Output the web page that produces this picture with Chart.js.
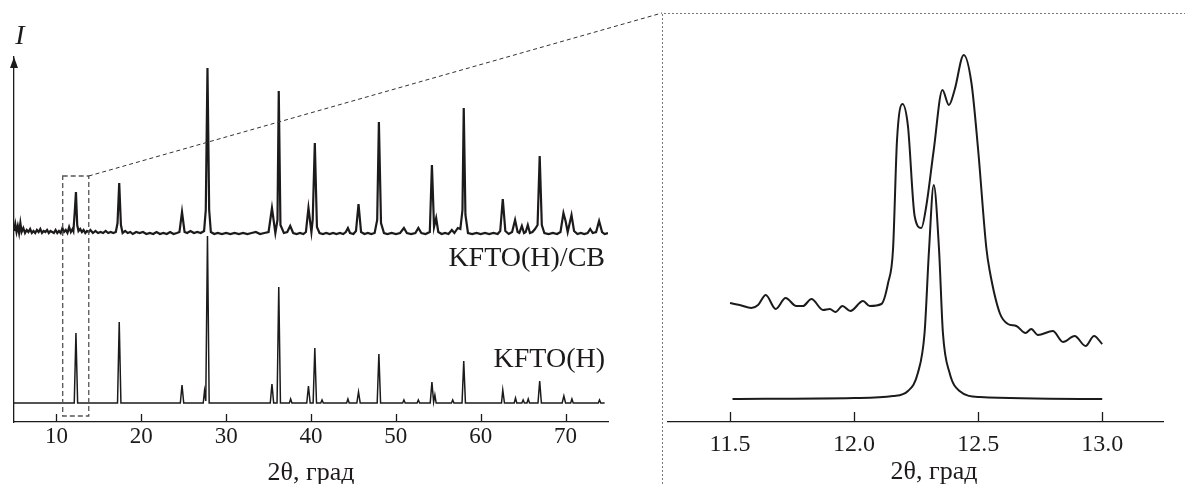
<!DOCTYPE html>
<html>
<head>
<meta charset="utf-8">
<script src="https://cdn.jsdelivr.net/npm/chart.js@4.4.1/dist/chart.umd.min.js"></script>
<style>
body { margin: 0; background: #fff; }
#wrap { position: relative; width: 1185px; height: 484px; }
canvas { position: absolute; left: 0; top: 0; }
</style>
</head>
<body>
<div id="wrap">
<canvas id="wide" width="1185" height="484"></canvas>
<canvas id="zoom" width="1185" height="484"></canvas>
</div>
<script>
// KFTO(H) pattern, intensity above its own baseline
var khTheta = [5, 12.1, 12.3, 12.5, 17.2, 17.4, 17.6, 24.6, 24.8, 25.0, 27.3, 27.45, 27.6, 27.8, 28.0,
    35.2, 35.4, 35.6, 36.0, 36.2, 36.4, 37.45, 37.6, 37.75, 39.5, 39.7, 39.9, 40.25, 40.45, 40.65,
    41.15, 41.3, 41.45, 44.2, 44.35, 44.5, 45.4, 45.6, 45.8, 47.8, 48.0, 48.2, 50.8, 50.95, 51.1,
    52.5, 52.65, 52.8, 54.05, 54.25, 54.45, 54.6, 54.75, 56.55, 56.7, 56.85, 57.8, 58.0, 58.2,
    62.45, 62.6, 62.8, 63.95, 64.1, 64.25, 64.85, 65.0, 65.15, 65.45, 65.6, 65.75, 66.75, 66.95, 67.15,
    69.6, 69.8, 70.0, 70.6, 70.75, 70.9, 73.85, 74.0, 74.15, 74.6];
var khI = [0, 0, 70, 0, 0, 81, 0, 0, 18, 0, 0, 12, 2, 167, 0,
    0, 19, 0, 0, 116, 0, 0, 4, 0, 0, 17, 0, 0, 55, 0,
    0, 3, 0, 0, 4, 0, 0, 11, 0, 0, 49, 0, 0, 3, 0,
    0, 3, 0, 0, 21, 1, 8, 0, 0, 3, 0, 0, 42, 0,
    0, 13, 0, 0, 5, 0, 0, 3, 0, 0, 4, 0, 0, 22, 0,
    0, 7, 0, 0, 4, 0, 0, 3, 0, 0];
var khOffset = 19;

// KFTO(H)/CB pattern
var cbTheta = [5.0, 5.15, 5.3, 5.45, 5.6, 5.75, 5.9, 6.1, 6.3, 6.5, 6.7, 6.9, 7.1, 7.3, 7.5, 7.7, 7.9, 8.1, 8.3, 8.5,
    8.7, 8.9, 9.1, 9.3, 9.5, 9.7, 9.9, 10.1, 10.3, 10.5, 10.7, 10.9, 11.1, 11.3, 11.5, 11.7, 11.9, 12.0, 12.15, 12.3,
    12.45, 12.6, 12.8, 13.0, 13.2, 13.4, 13.6, 13.8, 14.0, 14.3, 14.6, 14.9, 15.2, 15.5, 15.8, 16.1, 16.4, 16.7, 17.0, 17.2,
    17.4, 17.6, 17.8, 18.1, 18.4, 18.7, 19.0, 19.4, 19.8, 20.2, 20.6, 21.0, 21.4, 21.8, 22.2, 22.6, 23.0, 23.4, 23.8, 24.2,
    24.5, 24.8, 25.1, 25.4, 25.8, 26.2, 26.6, 27.0, 27.4, 27.6, 27.8, 28.0, 28.2, 28.6, 29.0, 29.5, 30.0, 30.5, 31.0, 31.5,
    32.0, 32.5, 33.0, 33.5, 34.0, 34.5, 35.0, 35.4, 35.8, 36.05, 36.2, 36.4, 36.8, 37.2, 37.55, 37.9, 38.3, 38.7, 39.1, 39.4,
    39.7, 40.05, 40.2, 40.45, 40.7, 41.0, 41.4, 41.8, 42.2, 42.6, 43.0, 43.4, 43.8, 44.1, 44.35, 44.6, 45.0, 45.3, 45.6, 45.9,
    46.3, 46.7, 47.1, 47.5, 47.8, 48.0, 48.25, 48.6, 49.0, 49.5, 50.0, 50.5, 50.95, 51.3, 51.8, 52.3, 52.65, 53.0, 53.5, 54.0,
    54.25, 54.5, 54.75, 55.0, 55.4, 55.8, 56.2, 56.6, 56.9, 57.3, 57.6, 57.85, 58.0, 58.2, 58.5, 59.0, 59.5, 60.0, 60.5, 61.0,
    61.5, 62.0, 62.3, 62.6, 62.9, 63.3, 63.7, 64.05, 64.35, 64.55, 64.85, 65.1, 65.3, 65.55, 65.8, 66.1, 66.4, 66.7, 66.95, 67.2,
    67.5, 68.0, 68.5, 69.0, 69.4, 69.75, 70.0, 70.25, 70.7, 71.0, 71.4, 71.8, 72.2, 72.6, 72.9, 73.2, 73.6, 73.95, 74.3, 74.6, 75.0];
var cbI = [4, 11, 3, 9, 2, 12, 3, 7, 2, 5, 3, 6, 2, 4, 2, 5, 3, 6, 2, 4,
    3, 5, 2, 4, 3, 2, 5, 2, 4, 2, 7, 3, 5, 2, 8, 3, 6, 4, 22, 43,
    10, 4, 6, 3, 5, 2, 4, 3, 5, 2, 4, 2, 3, 2, 4, 2, 3, 2, 3, 12,
    52, 10, 2, 4, 2, 3, 1, 3, 2, 3, 1, 2, 1, 3, 1, 2, 1, 3, 1, 2,
    3, 23, 3, 2, 4, 2, 3, 2, 4, 25, 167, 25, 3, 1, 2, 1, 2, 1, 2, 1,
    2, 1, 2, 3, 1, 2, 3, 27, 2, 15, 144, 10, 2, 3, 9, 2, 1, 2, 1, 3,
    27, 3, 15, 92, 8, 2, 1, 2, 1, 2, 1, 2, 1, 3, 7, 2, 1, 4, 31, 3,
    1, 2, 1, 2, 15, 113, 12, 2, 1, 2, 1, 2, 7, 2, 1, 2, 7, 2, 1, 3,
    70, 8, 17, 3, 1, 2, 1, 5, 2, 7, 6, 25, 127, 20, 2, 1, 2, 1, 2, 1,
    2, 1, 4, 36, 4, 1, 3, 15, 3, 2, 9, 2, 3, 10, 2, 3, 6, 10, 79, 10,
    2, 1, 2, 1, 3, 22, 14, 3, 20, 4, 1, 2, 1, 2, 6, 2, 3, 14, 3, 1, 2];
var cbOffset = 187;

var wideTicks = [10, 20, 30, 40, 50, 60, 70];

// zoomed region around 12.3 deg
var zoomCbTheta = [11.5, 11.539, 11.586, 11.613, 11.644, 11.684, 11.724, 11.767, 11.794, 11.828, 11.875, 11.902,
    11.925, 11.953, 11.985, 12.036, 12.063, 12.11, 12.137, 12.157, 12.173, 12.195, 12.217, 12.244, 12.271, 12.291,
    12.321, 12.356, 12.382, 12.405, 12.442, 12.473, 12.5, 12.533, 12.546, 12.587, 12.62, 12.654, 12.691, 12.714,
    12.741, 12.801, 12.842, 12.889, 12.933, 12.967, 13.0];
var zoomCbI = [119, 117, 114, 117, 127, 113, 124, 116, 116, 123, 112, 113,
    110, 116, 111, 121, 116, 118, 139, 173, 282, 318, 296, 206, 194, 216,
    272, 332, 317, 332, 367, 339, 272, 174, 152, 109, 98, 96, 89, 93,
    87, 91, 80, 86, 76, 86, 78];
var zoomKhTheta = [11.51, 12.0, 12.157, 12.217, 12.257, 12.284, 12.302, 12.321, 12.342, 12.358, 12.385, 12.425, 12.506, 13.0];
var zoomKhI = [23, 24, 26, 31, 49, 89, 172, 237, 174, 89, 49, 31, 25, 23];
var zoomTicks = [11.5, 12.0, 12.5, 13.0];

var ink = '#1d1a1b';
var serif = 'Liberation Serif';

var toPoints = function(xs, ys, offset){
    var pts = [];
    for (var i = 0; i < xs.length; i++) {
        pts.push({x: xs[i], y: ys[i] + offset});
    }
    return pts;
};

var fixHeight = function(h){
    return function(scale){ scale.height = h; };
};

var innerTicks = function(chart, len){
    var ctx = chart.ctx;
    var xs = chart.scales.x;
    ctx.save();
    ctx.strokeStyle = ink;
    ctx.lineWidth = 1.3;
    xs.ticks.forEach(function(t){
        var px = Math.round(xs.getPixelForValue(t.value)) + 0.5;
        ctx.beginPath();
        ctx.moveTo(px, xs.top);
        ctx.lineTo(px, xs.top - len);
        ctx.stroke();
    });
    ctx.restore();
};

var widePlugin = {
    id: 'wideDecor',
    afterDraw: function(chart){
        var ctx = chart.ctx;
        var xs = chart.scales.x, ys = chart.scales.y;
        var area = chart.chartArea;
        innerTicks(chart, 8);

        // arrow on the intensity axis
        ctx.save();
        ctx.fillStyle = ink;
        ctx.beginPath();
        ctx.moveTo(area.left, area.top);
        ctx.lineTo(area.left - 4, area.top + 11);
        ctx.lineTo(area.left + 4, area.top + 11);
        ctx.closePath();
        ctx.fill();

        ctx.font = 'italic 28px "' + serif + '"';
        ctx.textAlign = 'center';
        ctx.textBaseline = 'middle';
        ctx.fillText('I', 20, 37);

        ctx.font = '28px "' + serif + '"';
        ctx.textAlign = 'right';
        ctx.fillText('KFTO(H)/CB', 605, 259);
        ctx.fillText('KFTO(H)', 605, 360);

        // dashed box around the 12 deg peak
        var bx0 = xs.getPixelForValue(10.74), bx1 = xs.getPixelForValue(13.81);
        var by0 = ys.getPixelForValue(246), by1 = ys.getPixelForValue(6);
        ctx.strokeStyle = '#555';
        ctx.lineWidth = 1.3;
        ctx.setLineDash([5, 3]);
        ctx.strokeRect(bx0, by0, bx1 - bx0, by1 - by0);

        // link line to the zoomed panel
        ctx.strokeStyle = '#333';
        ctx.lineWidth = 1;
        ctx.setLineDash([4, 3]);
        ctx.beginPath();
        ctx.moveTo(bx1, by0);
        ctx.lineTo(662, 13);
        ctx.stroke();

        // zoomed panel frame
        ctx.strokeStyle = '#777';
        ctx.setLineDash([2, 2]);
        ctx.beginPath();
        ctx.moveTo(662.5, 484);
        ctx.lineTo(662.5, 13.5);
        ctx.lineTo(1185, 13.5);
        ctx.stroke();
        ctx.restore();
    }
};

var zoomPlugin = {
    id: 'zoomDecor',
    afterDraw: function(chart){
        var ctx = chart.ctx;
        innerTicks(chart, 10);
        ctx.save();
        ctx.fillStyle = ink;
        ctx.font = '26px "' + serif + '"';
        ctx.textAlign = 'center';
        ctx.textBaseline = 'middle';
        ctx.fillText('2\u03b8, \u0433\u0440\u0430\u0434', 934, 472);
        ctx.restore();
    }
};

new Chart(document.getElementById('wide').getContext('2d'), {
    type: 'line',
    data: {
        datasets: [{
            label: 'KFTO(H)/CB',
            data: toPoints(cbTheta, cbI, cbOffset),
            borderColor: ink,
            borderWidth: 2.2,
            pointRadius: 0,
            tension: 0
        }, {
            label: 'KFTO(H)',
            data: toPoints(khTheta, khI, khOffset),
            borderColor: ink,
            borderWidth: 1.5,
            pointRadius: 0,
            tension: 0
        }]
    },
    options: {
        responsive: false,
        animation: false,
        devicePixelRatio: 1,
        layout: {padding: {left: 14, right: 577, top: 57, bottom: 0}},
        plugins: {legend: {display: false}, tooltip: {enabled: false}},
        scales: {
            x: {
                type: 'linear',
                min: 5,
                max: 75,
                afterFit: fixHeight(62),
                afterBuildTicks: function(scale){
                    scale.ticks = wideTicks.map(function(v){ return {value: v}; });
                },
                grid: {display: false, drawTicks: false},
                border: {display: true, color: ink, width: 1.3},
                ticks: {
                    color: ink,
                    padding: 1,
                    maxRotation: 0,
                    font: {family: serif, size: 23},
                    callback: function(v){ return String(v); }
                },
                title: {
                    display: true,
                    text: '2\u03b8, \u0433\u0440\u0430\u0434',
                    color: ink,
                    padding: {top: 0, bottom: 0},
                    font: {family: serif, size: 26, lineHeight: 0.85}
                }
            },
            y: {
                type: 'linear',
                min: 0,
                max: 365,
                afterFit: function(scale){ scale.width = 0; },
                grid: {display: false, drawTicks: false},
                border: {display: true, color: ink, width: 1.3},
                ticks: {display: false}
            }
        }
    },
    plugins: [widePlugin]
});

new Chart(document.getElementById('zoom').getContext('2d'), {
    type: 'line',
    data: {
        datasets: [{
            label: 'KFTO(H)/CB',
            data: toPoints(zoomCbTheta, zoomCbI, 0),
            borderColor: ink,
            borderWidth: 2,
            pointRadius: 0,
            cubicInterpolationMode: 'monotone'
        }, {
            label: 'KFTO(H)',
            data: toPoints(zoomKhTheta, zoomKhI, 0),
            borderColor: ink,
            borderWidth: 2,
            pointRadius: 0,
            cubicInterpolationMode: 'monotone'
        }]
    },
    options: {
        responsive: false,
        animation: false,
        devicePixelRatio: 1,
        layout: {padding: {left: 668, right: 22, top: 13, bottom: 0}},
        plugins: {legend: {display: false}, tooltip: {enabled: false}},
        scales: {
            x: {
                type: 'linear',
                min: 11.25,
                max: 13.245,
                afterFit: fixHeight(62),
                afterBuildTicks: function(scale){
                    scale.ticks = zoomTicks.map(function(v){ return {value: v}; });
                },
                grid: {display: false, drawTicks: false},
                border: {display: true, color: ink, width: 1.3},
                ticks: {
                    color: ink,
                    padding: 8,
                    maxRotation: 0,
                    font: {family: serif, size: 24},
                    callback: function(v){ return Number(v).toFixed(1); }
                }
            },
            y: {
                type: 'linear',
                display: false,
                min: 0,
                max: 409
            }
        }
    },
    plugins: [zoomPlugin]
});
</script>
</body>
</html>
